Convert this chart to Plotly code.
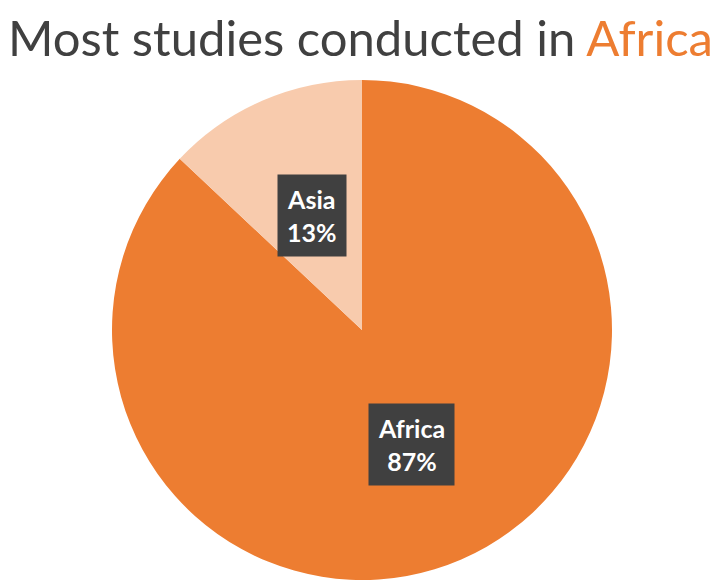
import math
import plotly.graph_objects as go

regions = ["Africa", "Asia"]
shares = [87, 13]
colors = ["#ED7D31", "#F8CBAD"]
title_lead = "Most studies conducted in "
title_highlight = "Africa"

W, H = 722, 583
OFF = 8  # page body margin
cx_px, cy_px, R = 362 - OFF, 330 - OFF, 250

fig = go.Figure(go.Pie(
    labels=regions, values=shares, sort=False, direction="clockwise",
    rotation=0, marker=dict(colors=colors, line=dict(width=0)),
    textinfo="none", hoverinfo="label+percent", showlegend=False,
    domain=dict(x=[(cx_px - R) / W, (cx_px + R) / W],
                y=[(H - cy_px - R) / H, (H - cy_px + R) / H]),
))

total = sum(shares)
start = 90.0
annotations = []
for name, v in zip(regions, shares):
    span = v / total * 360
    mid = math.radians(start - span / 2)
    start -= span
    rr = 0.5 * R
    x = (cx_px + rr * math.cos(mid)) / W
    y = (H - cy_px + rr * math.sin(mid)) / H
    txt = f"<b>{name}</b><br><b>{round(v / total * 100)}%</b>"
    annotations.append(dict(x=x, y=y, xref="paper", yref="paper", text=txt,
                            xanchor="center", yanchor="middle",
                            showarrow=False,
                            font=dict(size=25, color="white", family="Lato"),
                            bgcolor="#404040", borderpad=9))

annotations.append(dict(
    x=0.5, y=1, xref="paper", yref="paper", xanchor="center", yanchor="top",
    showarrow=False, yshift=1, xshift=-9, borderpad=0,
    text=f"<span style='color:#404040'>{title_lead}</span>"
         f"<span style='color:#ED7D31'>{title_highlight}</span>",
    font=dict(size=49, family="Lato", color="#404040"),
))

fig.update_layout(width=W, height=H, margin=dict(l=0, r=0, t=0, b=0),
                  paper_bgcolor="white", annotations=annotations)
fig.write_html("out.html")
